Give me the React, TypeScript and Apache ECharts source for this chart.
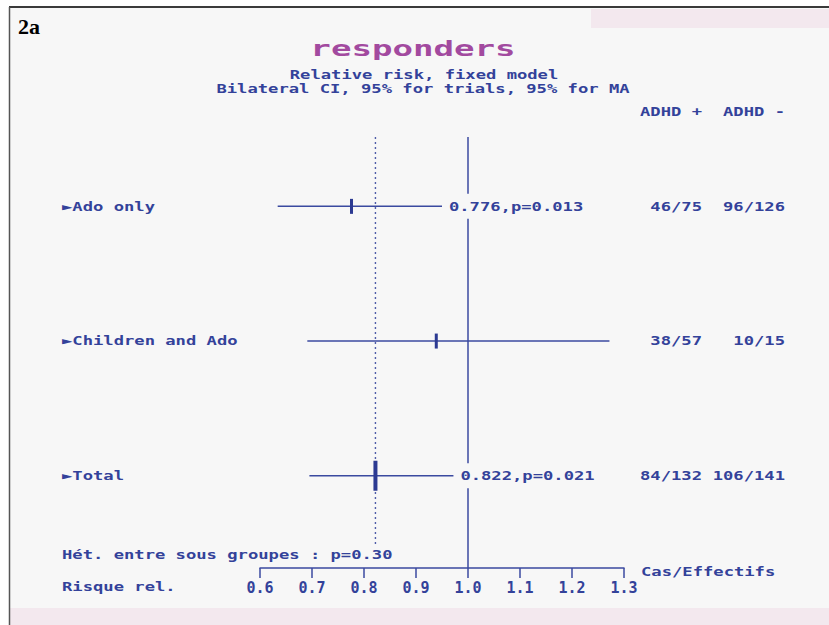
import React, { useEffect, useRef } from "react";
import * as echarts from "echarts";

// ---------- data ----------
const categories = ["\u25BAAdo only", "\u25BAChildren and Ado", "\u25BATotal"];
const estimates = [0.776, 0.939, 0.822];
const lowerCI = [0.634, 0.691, 0.695];
const upperCI = [0.95, 1.272, 0.972];
const effectLabels = ["0.776,p=0.013", "", "0.822,p=0.021"];
const casesPos = ["46/75", "38/57", "84/132"];
const casesNeg = ["96/126", "10/15", "106/141"];
const columnHeaders = ["ADHD +", "ADHD -"];
const pooledEstimate = 0.822;
const nullValue = 1.0;
const heterogeneityText = "H\u00e9t. entre sous groupes : p=0.30";
const xMin = 0.6;
const xMax = 1.3;
const xStep = 0.1;

// ---------- styles / layout ----------
const BLUE = "#33429a";
const LINE = "#3b4aa0";
const PURPLE = "#a24a9f";
const BG = "#f7f7f7";
const PINK = "#f3e8ee";
const MONO = '"DejaVu Sans Mono", "Liberation Mono", monospace';
const FONT = `bold 13px ${MONO}`;
const SX = 1.32;
const LABEL_X = 62;
const COL1_RIGHT = 702;
const COL2_RIGHT = 785;
const Y_MIN = 0.485;
const Y_MAX = 3.685;
const DOTTED_END = 3.514;

function txt(text: string, x: number, y: number, align: string, extra: any = {}) {
  return {
    type: "text",
    x,
    y,
    scaleX: SX,
    style: {
      text,
      font: FONT,
      fill: BLUE,
      align,
      textAlign: align,
      verticalAlign: "middle",
      textVerticalAlign: "middle",
      ...extra,
    },
  };
}

export default function App() {
  const ref = useRef<HTMLDivElement>(null);

  useEffect(() => {
    document.body.style.margin = "0";
    if (!ref.current) return;
    const chart = echarts.init(ref.current, null, { renderer: "svg" });

    const rowData = categories.map((_, i) => [i + 1, lowerCI[i], estimates[i], upperCI[i]]);
    const refData = [
      [nullValue, Y_MIN, Y_MAX, 0],
      [pooledEstimate, Y_MIN, DOTTED_END, 1],
    ];

    const option: any = {
      animation: false,
      backgroundColor: BG,
      grid: { left: 260, right: 205, top: 137, bottom: 57, containLabel: false },
      xAxis: {
        type: "value",
        min: xMin,
        max: xMax,
        interval: xStep,
        splitLine: { show: false },
        axisLine: { show: true, lineStyle: { color: LINE, width: 1.5 } },
        axisTick: { show: true, inside: false, length: 10, lineStyle: { color: LINE, width: 1.5 } },
        axisLabel: {
          margin: 12,
          color: BLUE,
          fontFamily: MONO,
          fontWeight: "bold",
          fontSize: 15,
          formatter: (v: number) => v.toFixed(1),
        },
      },
      yAxis: {
        type: "value",
        min: Y_MIN,
        max: Y_MAX,
        inverse: true,
        show: false,
      },
      graphic: [
        { type: "rect", shape: { x: 0, y: 0, width: 829, height: 7 }, style: { fill: "#ffffff" }, z: 0 },
        { type: "rect", shape: { x: 0, y: 0, width: 9, height: 625 }, style: { fill: "#ffffff" }, z: 0 },
        { type: "rect", shape: { x: 591, y: 9, width: 238, height: 19 }, style: { fill: PINK }, z: 0 },
        { type: "rect", shape: { x: 10, y: 608, width: 819, height: 17 }, style: { fill: PINK }, z: 0 },
        { type: "line", shape: { x1: 9, y1: 7, x2: 829, y2: 7 }, style: { stroke: "#3a3a3a", lineWidth: 2 }, z: 1 },
        { type: "line", shape: { x1: 9.5, y1: 7, x2: 9.5, y2: 625 }, style: { stroke: "#555555", lineWidth: 1.5 }, z: 1 },
        {
          type: "text",
          x: 18,
          y: 26,
          style: {
            text: "2a",
            font: 'bold 22px "Liberation Serif", "DejaVu Serif", serif',
            fill: "#000000",
            align: "left",
            textAlign: "left",
            verticalAlign: "middle",
            textVerticalAlign: "middle",
          },
          z: 5,
        },
        {
          type: "text",
          x: 413,
          y: 48,
          scaleX: 1.55,
          style: {
            text: "responders",
            font: `bold 22px ${MONO}`,
            fill: PURPLE,
            align: "center",
            textAlign: "center",
            verticalAlign: "middle",
            textVerticalAlign: "middle",
          },
          z: 5,
        },
        { ...txt("Relative risk, fixed model", 424, 75, "center"), z: 5 },
        { ...txt("Bilateral CI, 95% for trials, 95% for MA", 423, 89, "center"), z: 5 },
        { ...txt(columnHeaders[0], COL1_RIGHT, 112, "right"), z: 5 },
        { ...txt(columnHeaders[1], COL2_RIGHT, 112, "right"), z: 5 },
        { ...txt(heterogeneityText, LABEL_X, 555, "left"), z: 5 },
        { ...txt("Risque rel.", LABEL_X, 587, "left"), z: 5 },
        { ...txt("Cas/Effectifs", 641, 572, "left"), z: 5 },
      ],
      series: [
        {
          type: "custom",
          z: 1,
          data: refData,
          encode: { x: 0, y: [1, 2] },
          renderItem: (params: any, api: any) => {
            const xv = api.value(0);
            const p1 = api.coord([xv, api.value(1)]);
            const p2 = api.coord([xv, api.value(2)]);
            const dotted = api.value(3) === 1;
            return {
              type: "line",
              shape: { x1: p1[0], y1: p1[1], x2: p2[0], y2: p2[1] },
              style: dotted
                ? { stroke: "#4f5ca8", lineWidth: 1.4, lineDash: [2, 3] }
                : { stroke: LINE, lineWidth: 1.5 },
            };
          },
        },
        {
          type: "custom",
          z: 3,
          data: rowData,
          encode: { x: [1, 2, 3], y: 0 },
          renderItem: (params: any, api: any) => {
            const i = params.dataIndex;
            const row = api.value(0);
            const pLo = api.coord([api.value(1), row]);
            const pE = api.coord([api.value(2), row]);
            const pHi = api.coord([api.value(3), row]);
            const isTotal = i === categories.length - 1;
            const mw = isTotal ? 4 : 3;
            const mh = isTotal ? 30 : 15;
            const children: any[] = [
              {
                type: "line",
                shape: { x1: pLo[0], y1: pLo[1], x2: pHi[0], y2: pHi[1] },
                style: { stroke: LINE, lineWidth: 1.5 },
              },
              {
                type: "rect",
                shape: { x: pE[0] - mw / 2, y: pE[1] - mh / 2, width: mw, height: mh },
                style: { fill: "#2c3a92" },
              },
              txt(categories[i], LABEL_X, pE[1], "left"),
              txt(casesPos[i], COL1_RIGHT, pE[1], "right"),
              txt(casesNeg[i], COL2_RIGHT, pE[1], "right"),
            ];
            if (effectLabels[i]) {
              children.push(
                txt(effectLabels[i], pHi[0] + 3, pE[1], "left", {
                  backgroundColor: BG,
                  padding: [6, 3, 6, 3],
                })
              );
            }
            return { type: "group", children };
          },
        },
      ],
    };

    chart.setOption(option);
    return () => chart.dispose();
  }, []);

  return <div ref={ref} style={{ width: 829, height: 625 }} />;
}
